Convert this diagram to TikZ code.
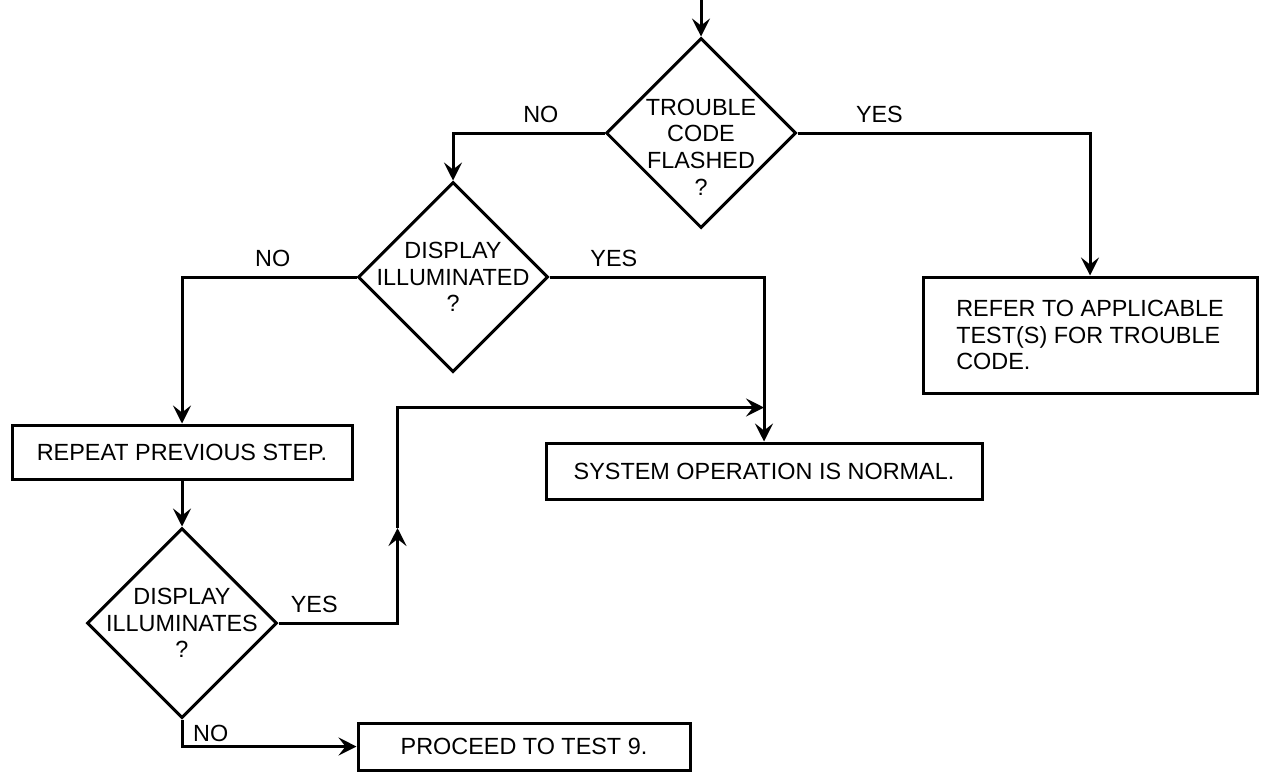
\documentclass[tikz,border=0pt]{standalone}
\usepackage{fontspec}
\setmainfont{Liberation Sans}
\usetikzlibrary{positioning,arrows.meta,shapes.geometric}

\begin{document}
\begin{tikzpicture}[
  on grid,
  line width=1.5pt,
  every node/.style={font=\fontsize{11.7}{13.3}\selectfont},
  decision/.style={draw, diamond, minimum width=95pt, minimum height=95pt, inner sep=0pt},
  action/.style={draw, align=center, inner sep=0pt},
  answer/.style={above=1pt},
  arrow/.style={-{Stealth[length=9pt, width=9pt, inset=3.5pt]}}
]
\useasboundingbox (0,0) rectangle (630.5pt,-386pt);
\node[decision, label={[align=center, yshift=-7pt]center:TROUBLE\\CODE\\FLASHED\\?}] (d1) at (350.5pt,-66.5pt) {};
\coordinate[above=19pt of d1.north] (entry);
\node[decision, below left=72pt and 124pt of d1, label={[align=center]center:DISPLAY\\ILLUMINATED\\?}] (d2) {};
\node[action, align=left, minimum width=167pt, minimum height=58pt, below right=101pt and 194.5pt of d1] (refer) {REFER TO APPLICABLE\\TEST(S) FOR TROUBLE\\CODE.};
\node[action, minimum width=170pt, minimum height=27pt, below left=87.5pt and 135.5pt of d2] (repeat) {REPEAT PREVIOUS STEP.};
\node[action, minimum width=218pt, minimum height=28pt, below right=97pt and 155.5pt of d2] (system) {SYSTEM OPERATION IS NORMAL.};
\node[decision, below=85.5pt of repeat, label={[align=center]center:DISPLAY\\ILLUMINATES\\?}] (d3) {};
\node[action, minimum width=166pt, minimum height=23.5pt, below right=61.75pt and 171pt of d3] (proceed) {PROCEED TO TEST 9.};
\coordinate[above right=47.5pt and 59.5pt of d3.east] (up);
\coordinate[above=17pt of system.north] (join);
\draw[arrow] (entry) -- (d1.north);
\draw[arrow] (d1.west) -| node[answer, pos=0.21] {NO} (d2.north);
\draw[arrow] (d1.east) -| node[answer, pos=0.14] {YES} (refer.north);
\draw[arrow] (d2.west) -| node[answer, pos=0.24] {NO} (repeat.north);
\draw[arrow] (d2.east) -| node[answer, pos=0.15] {YES} (system.north);
\draw[arrow] (repeat) -- (d3);
\draw[arrow] (d3.east) -| node[answer, pos=0.15] {YES} (up);
\draw[arrow] (up) |- (join);
\draw[arrow] (d3.south) |- node[pos=0.25, right=1.5pt] {NO} (proceed.west);
\end{tikzpicture}
\end{document}
